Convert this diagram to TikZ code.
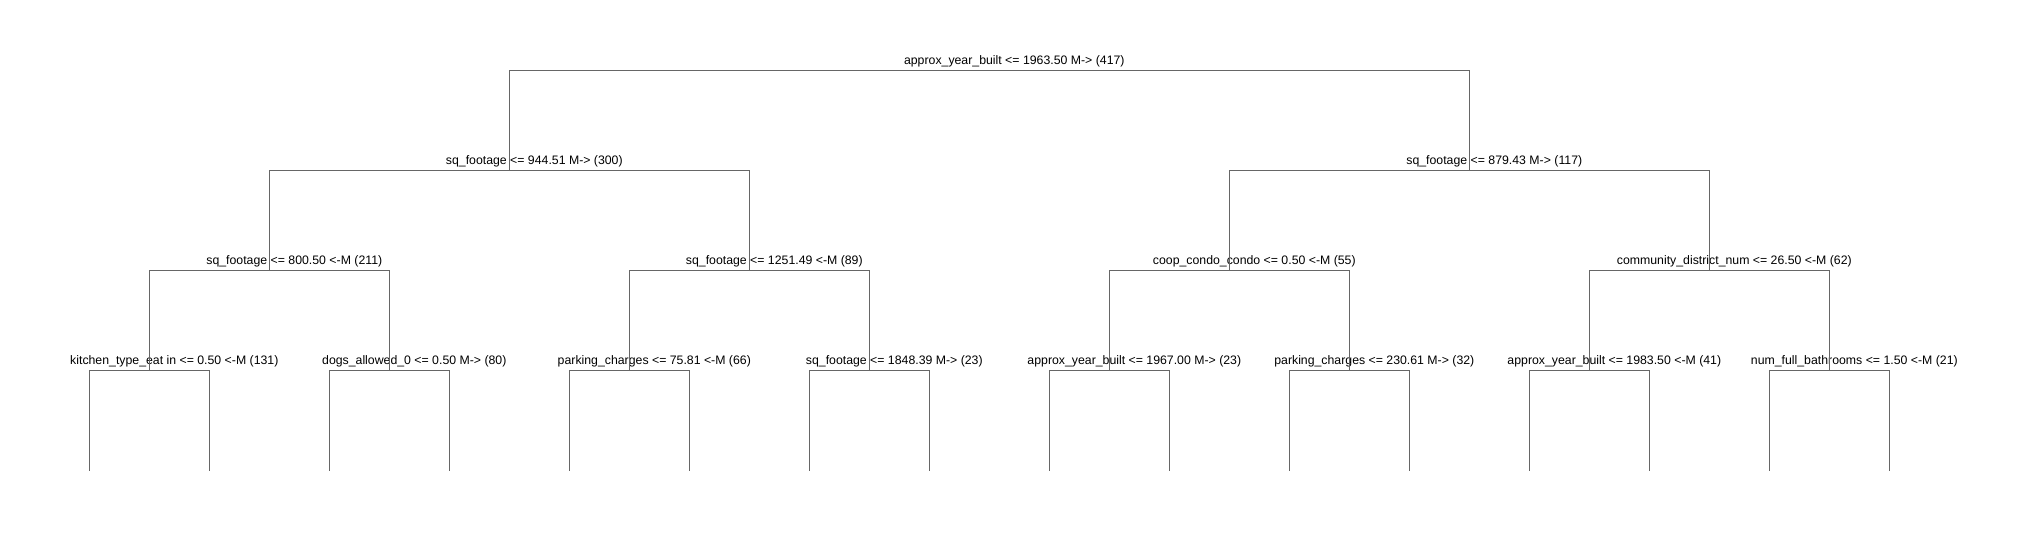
\documentclass[tikz,border=0pt]{standalone}
\usepackage{fontspec}
\setmainfont{Liberation Sans}
\usetikzlibrary{positioning}
\definecolor{treeline}{RGB}{102,102,102}
\tikzset{
	split/.style={coordinate},
	cond/.style={anchor=base, inner sep=0, xshift=25pt, yshift=6.5pt, font=\fontsize{12.3}{14}\selectfont, text=black},
	branch/.style={color=treeline, line width=1pt}
}
\begin{document}
\begin{tikzpicture}[x=30pt, y=25pt]
		\useasboundingbox (-2.977, -2.76) rectangle (64.623, 18.84);
		\coordinate [split] (0) at (30, 16);
		\coordinate [split] (1) at (14, 12);
		\coordinate [split] (2) at (46, 12);
		\coordinate [split] (3) at (6, 8);
		\coordinate [split] (4) at (22, 8);
		\coordinate [split] (5) at (38, 8);
		\coordinate [split] (6) at (54, 8);
		\coordinate [split] (7) at (2, 4);
		\coordinate [split] (8) at (10, 4);
		\coordinate [split] (9) at (18, 4);
		\coordinate [split] (10) at (26, 4);
		\coordinate [split] (11) at (34, 4);
		\coordinate [split] (12) at (42, 4);
		\coordinate [split] (13) at (50, 4);
		\coordinate [split] (14) at (58, 4);
		\coordinate (15) at (0, 0);
		\coordinate (16) at (4, 0);
		\coordinate (17) at (8, 0);
		\coordinate (18) at (12, 0);
		\coordinate (19) at (16, 0);
		\coordinate (20) at (20, 0);
		\coordinate (21) at (24, 0);
		\coordinate (22) at (28, 0);
		\coordinate (23) at (32, 0);
		\coordinate (24) at (36, 0);
		\coordinate (25) at (40, 0);
		\coordinate (26) at (44, 0);
		\coordinate (27) at (48, 0);
		\coordinate (28) at (52, 0);
		\coordinate (29) at (56, 0);
		\coordinate (30) at (60, 0);

		\node [cond] (t0) at (0) {approx\_year\_built <= 1963.50 M-> (417)};
		\node [cond] (t1) at (1) {sq\_footage <= 944.51 M-> (300)};
		\node [cond] (t2) at (2) {sq\_footage <= 879.43 M-> (117)};
		\node [cond] (t3) at (3) {sq\_footage <= 800.50 <-M (211)};
		\node [cond] (t4) at (4) {sq\_footage <= 1251.49 <-M (89)};
		\node [cond] (t5) at (5) {coop\_condo\_condo <= 0.50 <-M (55)};
		\node [cond] (t6) at (6) {community\_district\_num <= 26.50 <-M (62)};
		\node [cond] (t7) at (7) {kitchen\_type\_eat in <= 0.50 <-M (131)};
		\node [cond] (t8) at (8) {dogs\_allowed\_0 <= 0.50 M-> (80)};
		\node [cond] (t9) at (9) {parking\_charges <= 75.81 <-M (66)};
		\node [cond] (t10) at (10) {sq\_footage <= 1848.39 M-> (23)};
		\node [cond] (t11) at (11) {approx\_year\_built <= 1967.00 M-> (23)};
		\node [cond] (t12) at (12) {parking\_charges <= 230.61 M-> (32)};
		\node [cond] (t13) at (13) {approx\_year\_built <= 1983.50 <-M (41)};
		\node [cond] (t14) at (14) {num\_full\_bathrooms <= 1.50 <-M (21)};

		\draw [branch] (0) -| (1);
		\draw [branch] (0) -| (2);
		\draw [branch] (1) -| (3);
		\draw [branch] (1) -| (4);
		\draw [branch] (2) -| (5);
		\draw [branch] (2) -| (6);
		\draw [branch] (3) -| (7);
		\draw [branch] (3) -| (8);
		\draw [branch] (4) -| (9);
		\draw [branch] (4) -| (10);
		\draw [branch] (5) -| (11);
		\draw [branch] (5) -| (12);
		\draw [branch] (6) -| (13);
		\draw [branch] (6) -| (14);
		\draw [branch] (7) -| (15);
		\draw [branch] (7) -| (16);
		\draw [branch] (8) -| (17);
		\draw [branch] (8) -| (18);
		\draw [branch] (9) -| (19);
		\draw [branch] (9) -| (20);
		\draw [branch] (10) -| (21);
		\draw [branch] (10) -| (22);
		\draw [branch] (11) -| (23);
		\draw [branch] (11) -| (24);
		\draw [branch] (12) -| (25);
		\draw [branch] (12) -| (26);
		\draw [branch] (13) -| (27);
		\draw [branch] (13) -| (28);
		\draw [branch] (14) -| (29);
		\draw [branch] (14) -| (30);

	\end{tikzpicture}
\end{document}
